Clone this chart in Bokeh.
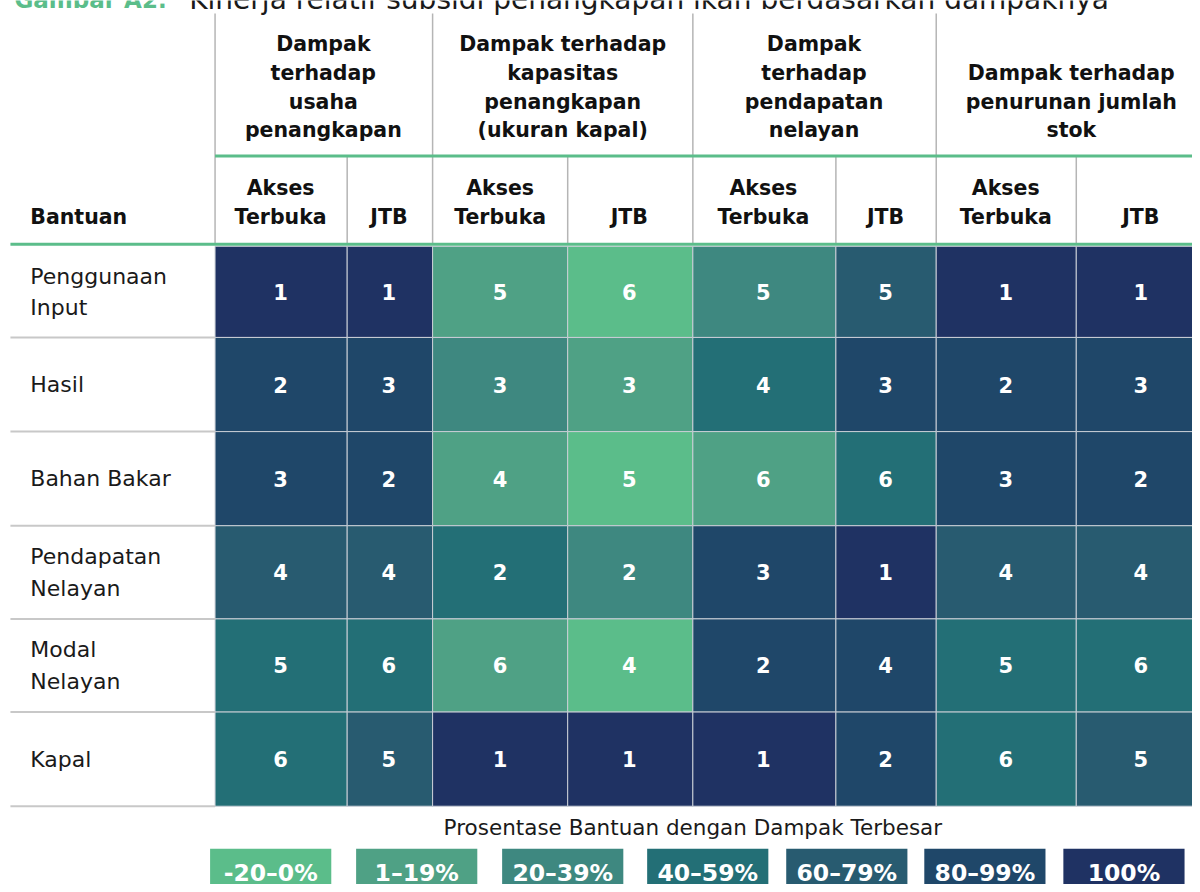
from bokeh.plotting import figure
from bokeh.models import Range1d, ColumnDataSource
from bokeh.core.properties import value
from bokeh.embed import file_html
from bokeh.resources import INLINE

# ---------------- data ----------------
title_bold = "Gambar A2."
title_rest = "Kinerja relatif subsidi penangkapan ikan berdasarkan dampaknya"
groups = ["Dampak\nterhadap\nusaha\npenangkapan",
          "Dampak terhadap\nkapasitas\npenangkapan\n(ukuran kapal)",
          "Dampak\nterhadap\npendapatan\nnelayan",
          "Dampak terhadap\npenurunan jumlah\nstok"]
subcols = ["Akses\nTerbuka", "JTB", "Akses\nTerbuka", "JTB",
           "Akses\nTerbuka", "JTB", "Akses\nTerbuka", "JTB"]
row_header = "Bantuan"
rows = ["Penggunaan\nInput", "Hasil", "Bahan Bakar", "Pendapatan\nNelayan", "Modal\nNelayan", "Kapal"]
ranks = [[1, 1, 5, 6, 5, 5, 1, 1],
         [2, 3, 3, 3, 4, 3, 2, 3],
         [3, 2, 4, 5, 6, 6, 3, 2],
         [4, 4, 2, 2, 3, 1, 4, 4],
         [5, 6, 6, 4, 2, 4, 5, 6],
         [6, 5, 1, 1, 1, 2, 6, 5]]
# percentage class of each cell (index into legend_labels)
levels = [[6, 6, 1, 0, 2, 4, 6, 6],
          [5, 5, 2, 1, 3, 5, 5, 5],
          [5, 5, 1, 0, 1, 3, 5, 5],
          [4, 4, 3, 2, 5, 6, 4, 4],
          [3, 3, 1, 0, 5, 5, 3, 3],
          [3, 4, 6, 6, 6, 5, 3, 4]]
legend_title = "Prosentase Bantuan dengan Dampak Terbesar"
legend_labels = ["-20–0%", "1–19%", "20–39%", "40–59%", "60–79%", "80–99%", "100%"]

# ---------------- style / layout ----------------
palette = ["#5bbd8a", "#4fa185", "#3e8880", "#236f76", "#285b70", "#1f4769", "#1f3263"]
GREEN = "#5bbd8a"
FONT = "DejaVu Sans"
col_edges = [216, 349, 435, 571, 697, 841, 942, 1083, 1210]
group_edges = [216, 435, 697, 942, 1210]
group_centers = [325, 566, 819, 1078]
sub_centers = [282, 391, 503, 633, 768, 891, 1012, 1148]
row_edges = [248, 340, 435, 530, 624, 718, 813]
legend_x0 = [211, 358, 505, 651, 791, 930, 1070]
legend_w = 122

W, H = 1192, 884
p = figure(width=W, height=H, output_backend="svg", toolbar_location=None,
           x_range=Range1d(0, 1200), y_range=Range1d(892, 0),
           min_border=0, outline_line_color=None)
p.axis.visible = False
p.grid.visible = False
p.background_fill_color = "white"

# title (cropped at top as in the reference)
p.text(x=[14], y=[-1], text=[title_bold], text_font=value(FONT), text_font_style="bold",
       text_font_size="23px", text_color=GREEN, text_baseline="alphabetic")
p.text(x=[190], y=[-1], text=[title_rest], text_font=value(FONT),
       text_font_size="28px", text_color="#1a1a1a", text_baseline="alphabetic")

# cells
cl, cr, cb, ct, cc, cx, cy, ctext = [], [], [], [], [], [], [], []
for i in range(len(rows)):
    for j in range(len(subcols)):
        cl.append(col_edges[j]); cr.append(col_edges[j + 1])
        ct.append(row_edges[i]); cb.append(row_edges[i + 1])
        cc.append(palette[levels[i][j]])
        cx.append(sub_centers[j])
        cy.append((row_edges[i] + row_edges[i + 1]) / 2)
        ctext.append(str(ranks[i][j]))
p.quad(left=cl, right=cr, top=ct, bottom=cb, fill_color=cc,
       line_color="#c9ced6", line_width=1)
p.text(x=cx, y=cy, text=ctext, text_font=value(FONT), text_font_style="bold",
       text_font_size="21px", text_color="white", text_align="center",
       text_baseline="middle")

# row separators in label column
p.segment(x0=[10] * 6, x1=[216] * 6, y0=row_edges[1:], y1=row_edges[1:],
          line_color="#c8c8c8", line_width=2)

# header vertical lines
p.segment(x0=group_edges[:-1], x1=group_edges[:-1], y0=[13] * 4, y1=[246] * 4,
          line_color="#b5b5b5", line_width=1.5)
sub_x = [col_edges[k] for k in (1, 3, 5, 7)]
p.segment(x0=sub_x, x1=sub_x, y0=[157] * 4, y1=[246] * 4,
          line_color="#b5b5b5", line_width=1.5)

# green rules
p.segment(x0=[216], x1=[1200], y0=[157], y1=[157], line_color=GREEN, line_width=3)
p.segment(x0=[10], x1=[1200], y0=[246], y1=[246], line_color=GREEN, line_width=3)

# group headers (bottom aligned lines)
gx, gy, gt = [], [], []
for g, label in enumerate(groups):
    lines = label.split("\n")
    n = len(lines)
    for k, ln in enumerate(lines):
        gx.append(group_centers[g])
        gy.append(131 - (n - 1 - k) * 29)
        gt.append(ln)
p.text(x=gx, y=gy, text=gt, text_font=value(FONT), text_font_style="bold",
       text_font_size="20.5px", text_color="#111111", text_align="center",
       text_baseline="middle")

# sub headers
sx, sy, st = [], [], []
for j, label in enumerate(subcols):
    lines = label.split("\n")
    n = len(lines)
    for k, ln in enumerate(lines):
        sx.append(sub_centers[j])
        sy.append(218 - (n - 1 - k) * 29)
        st.append(ln)
p.text(x=sx, y=sy, text=st, text_font=value(FONT), text_font_style="bold",
       text_font_size="20.5px", text_color="#111111", text_align="center",
       text_baseline="middle")
p.text(x=[30], y=[218], text=[row_header], text_font=value(FONT), text_font_style="bold",
       text_font_size="20.5px", text_color="#111111", text_align="left",
       text_baseline="middle")

# row labels
rx, ry, rt = [], [], []
for i, label in enumerate(rows):
    lines = label.split("\n")
    n = len(lines)
    mid = (row_edges[i] + row_edges[i + 1]) / 2
    for k, ln in enumerate(lines):
        rx.append(30)
        ry.append(mid + (k - (n - 1) / 2) * 32)
        rt.append(ln)
p.text(x=rx, y=ry, text=rt, text_font=value(FONT), text_font_size="22px",
       text_color="#1a1a1a", text_align="left", text_baseline="middle")

# legend
p.text(x=[697], y=[834], text=[legend_title], text_font=value(FONT), text_font_size="21.5px",
       text_color="#1a1a1a", text_align="center", text_baseline="middle")
lsrc = ColumnDataSource(dict(
    left=legend_x0, right=[x + legend_w for x in legend_x0],
    top=[856] * 7, bottom=[905] * 7, color=palette,
    cx=[x + legend_w / 2 for x in legend_x0], cy=[880] * 7, label=legend_labels))
p.quad(left="left", right="right", top="top", bottom="bottom", fill_color="color",
       line_color=None, source=lsrc)
p.text(x="cx", y="cy", text="label", source=lsrc, text_font=value(FONT),
       text_font_style="bold", text_font_size="23.5px", text_color="white",
       text_align="center", text_baseline="middle")

open("out.html", "w").write(file_html(p, INLINE))
